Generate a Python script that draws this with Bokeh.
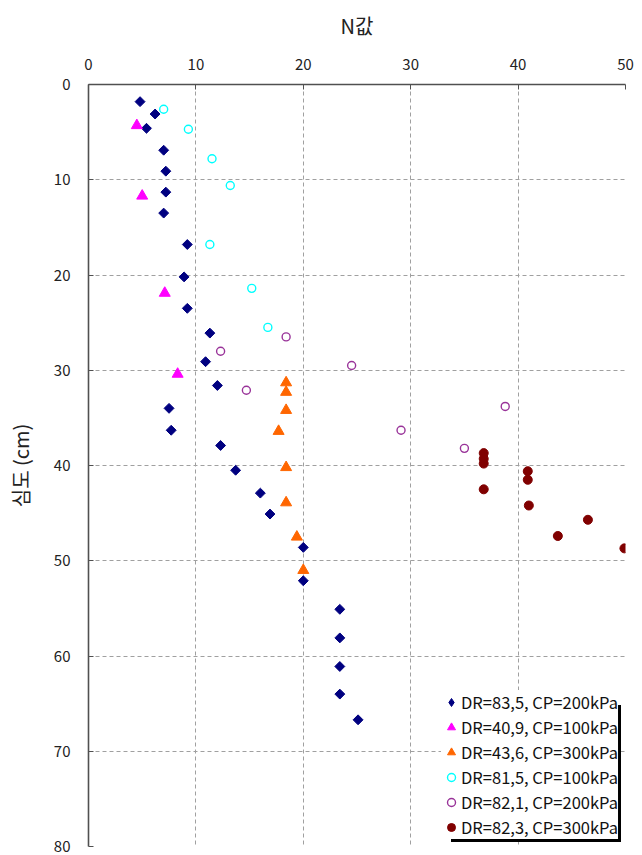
import math
from bokeh.plotting import figure
from bokeh.models import Range1d, FixedTicker, LinearAxis, Legend, LegendItem
from bokeh.embed import file_html
from bokeh.resources import INLINE

# DR=83,5, CP=200kPa
s1_n = [4.8, 6.2, 5.4, 7.0, 7.2, 7.2, 7.0, 9.2, 8.9, 9.2, 11.3, 10.9, 12.0, 7.5, 7.7,
        12.3, 13.7, 16.0, 16.9, 20.0, 20.0, 23.4, 23.4, 23.4, 23.4, 25.1]
s1_d = [1.8, 3.1, 4.6, 6.9, 9.1, 11.3, 13.5, 16.8, 20.2, 23.5, 26.1, 29.1, 31.6, 34.0, 36.3,
        37.9, 40.5, 42.9, 45.1, 48.6, 52.1, 55.1, 58.1, 61.1, 64.0, 66.7]
# DR=40,9, CP=100kPa
s2_n = [4.5, 5.0, 7.1, 8.3]
s2_d = [4.3, 11.7, 21.9, 30.4]
# DR=43,6, CP=300kPa
s3_n = [18.4, 18.4, 18.4, 17.7, 18.4, 18.4, 19.4, 20.0]
s3_d = [31.3, 32.3, 34.2, 36.4, 40.2, 43.9, 47.5, 51.0]
# DR=81,5, CP=100kPa
s4_n = [7.0, 9.3, 11.5, 13.2, 11.3, 15.2, 16.7]
s4_d = [2.6, 4.7, 7.8, 10.6, 16.8, 21.4, 25.5]
# DR=82,1, CP=200kPa
s5_n = [12.3, 18.4, 24.5, 14.7, 38.8, 29.1, 35.0]
s5_d = [28.0, 26.5, 29.5, 32.1, 33.8, 36.3, 38.2]
# DR=82,3, CP=300kPa
s6_n = [36.8, 36.8, 36.8, 36.8, 40.9, 40.9, 41.0, 46.5, 43.7, 49.9]
s6_d = [38.7, 39.3, 39.8, 42.5, 40.6, 41.5, 44.2, 45.7, 47.4, 48.7]

labels = ["DR=83,5, CP=200kPa", "DR=40,9, CP=100kPa", "DR=43,6, CP=300kPa",
          "DR=81,5, CP=100kPa", "DR=82,1, CP=200kPa", "DR=82,3, CP=300kPa"]
x_ticks = [0, 10, 20, 30, 40, 50]
y_ticks = [0, 10, 20, 30, 40, 50, 60, 70, 80]
X_MAX = 50
Y_MAX = 80

FONT = "Noto Sans CJK KR"

W, H = 642, 855
p = figure(width=W, height=H, output_backend="svg", toolbar_location=None,
           x_range=Range1d(0, X_MAX), y_range=Range1d(Y_MAX, 0),
           x_axis_location=None, y_axis_location=None,
           min_border_left=88, min_border_right=17, min_border_top=84, min_border_bottom=9)
p.outline_line_color = None
p.background_fill_color = "white"

xa = LinearAxis(ticker=FixedTicker(ticks=x_ticks), axis_label="N값")
ya = LinearAxis(ticker=FixedTicker(ticks=y_ticks), axis_label="심도 (cm)")
for ax in (xa, ya):
    ax.axis_line_color = "#505050"
    ax.axis_line_width = 1.6
    ax.major_tick_in = 5
    ax.major_tick_out = 0
    ax.major_tick_line_color = "#505050"
    ax.minor_tick_line_color = None
    ax.major_label_text_font = FONT
    ax.major_label_text_font_size = "15px"
    ax.major_label_text_color = "#222222"
    ax.axis_label_text_font = FONT
    ax.axis_label_text_font_size = "20px"
    ax.axis_label_text_font_style = "normal"
    ax.axis_label_text_color = "#222222"
xa.major_label_standoff = 15
xa.axis_label_standoff = 16
ya.major_label_standoff = 18
ya.axis_label_standoff = 16
p.add_layout(xa, "above")
p.add_layout(ya, "left")

p.xgrid.ticker = FixedTicker(ticks=x_ticks)
p.ygrid.ticker = FixedTicker(ticks=y_ticks)
p.grid.grid_line_color = "#a0a0a0"
p.grid.grid_line_dash = "4 3"
p.grid.grid_line_width = 1

# diamond key for the legend (drawn small, fully covered by the plotted markers)
r1_key = p.scatter(s1_n, s1_d, marker="diamond", size=6, fill_color="#000080", line_color="#000080")
r1 = p.scatter(s1_n, s1_d, marker="square", angle=math.pi / 4, size=7,
               fill_color="#000080", line_color="#000080")
r2 = p.scatter(s2_n, s2_d, marker="triangle", size=11, fill_color="#FF00FF", line_color="#FF00FF")
r3 = p.scatter(s3_n, s3_d, marker="triangle", size=11, fill_color="#FF6600", line_color="#FF6600")
r4 = p.scatter(s4_n, s4_d, marker="circle", size=8, fill_color="white", line_color="#00FFFF", line_width=1.4)
r5 = p.scatter(s5_n, s5_d, marker="circle", size=8, fill_color="white", line_color="#993399", line_width=1.4)
r6 = p.scatter(s6_n, s6_d, marker="circle", size=9, fill_color="#800000", line_color="#800000")

MARGIN = 7
SH = 3
renderers = [r1_key, r2, r3, r4, r5, r6]


def style_legend(lg, margin, bg):
    lg.location = "bottom_right"
    lg.margin = margin
    lg.padding = 4
    lg.spacing = 1
    lg.glyph_width = 20
    lg.glyph_height = 22
    lg.label_standoff = 0
    lg.label_height = 20
    lg.label_text_font = FONT
    lg.label_text_font_size = "16.5px"
    lg.label_text_color = "#111111"
    lg.border_line_color = None
    lg.background_fill_color = bg
    lg.background_fill_alpha = 1
    return lg


# drop shadow: a blank black box of the same rows, shifted right/down, drawn first
shadow = style_legend(Legend(items=[LegendItem(label=" ", renderers=[r]) for r in renderers]),
                      MARGIN - SH, "black")
shadow.label_width = 150
p.add_layout(shadow, "center")

legend = style_legend(Legend(items=[LegendItem(label=l, renderers=[r]) for l, r in zip(labels, renderers)]),
                      MARGIN, "white")
p.add_layout(legend, "center")

open("out.html", "w").write(file_html(p, INLINE))
